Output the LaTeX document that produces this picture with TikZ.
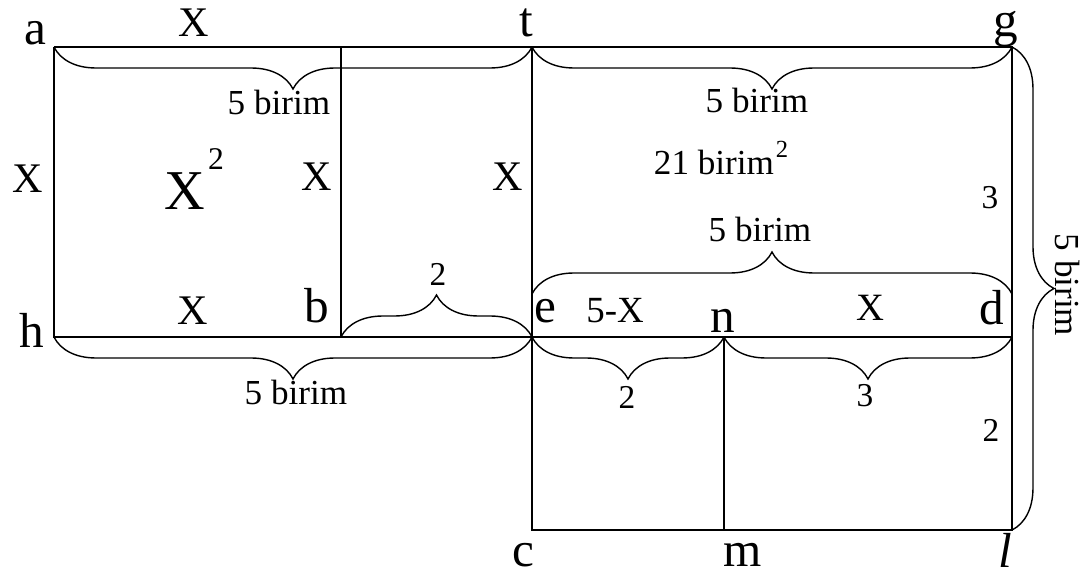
\documentclass[tikz,border=0pt]{standalone}
\usepackage{fontspec}
\setmainfont{Liberation Serif}
\usetikzlibrary{decorations.pathreplacing,calc}

\begin{document}
\begin{tikzpicture}[x=0.1mm,y=-0.1mm, line width=0.4pt,
    corner/.style={font=\fontsize{14}{16}\selectfont, anchor=base},
    xlbl/.style={font=\fontsize{12}{14}\selectfont, anchor=base},
    unit/.style={font=\fontsize{10}{12}\selectfont, anchor=base},
    num/.style={font=\fontsize{9.5}{11}\selectfont},
    brc/.style={decorate, decoration={brace, amplitude=4.2mm}},
    brcm/.style={decorate, decoration={brace, amplitude=4.2mm, mirror}}]
    \useasboundingbox (0,0) rectangle (1083,574);
    % corners of the figure
    \coordinate (A) at (54,47);
    \coordinate (Bt) at (341,47);
    \coordinate (T) at (532,47);
    \coordinate (G) at (1012,47);
    \coordinate (H) at (54,337);
    \coordinate (B) at (341,337);
    \coordinate (E) at (532,337);
    \coordinate (N) at (724,337);
    \coordinate (D) at (1012,337);
    \coordinate (C) at (532,530);
    \coordinate (M) at (724,530);
    \coordinate (L) at (1012,530);
    % sides
    \draw (A) -- (G) -- (L) -- (C) -- (T);
    \draw (A) -- (H) -- (D);
    \draw (Bt) -- (B);
    \draw (N) -- (M);
    % braces
    \draw[brcm] (A) -- (T);
    \draw[brcm] (T) -- (G);
    \draw[brc] ($(E)+(0,-43)$) -- ($(D)+(0,-43)$);
    \draw[brc] (B) -- (E);
    \draw[brcm] (H) -- (E);
    \draw[brcm] (E) -- (N);
    \draw[brcm] (N) -- (D);
    \draw[brc] (G) -- (L);
    % point names
    \node[corner] (la) at (35,45) {a};
    \node[corner] (lt) at (526,37) {t};
    \node[corner] (lg) at (1006,37) {g};
    \node[corner] (lh) at (32,347) {h};
    \node[corner] (lb) at (317,323) {b};
    \node[corner] (le) at (545,323) {e};
    \node[corner] (ln) at (723,333) {n};
    \node[corner] (ld) at (992,325) {d};
    \node[corner] (lc) at (523,567) {c};
    \node[corner] (lm) at (743,567) {m};
    \node[corner] (ll) at (1005,568) {\textit{l}};
    % lengths and areas
    \node[xlbl] (xtop) at (194,36) {X};
    \node[xlbl] (xleft) at (28,193) {X};
    \node[font=\fontsize{16}{18}\selectfont, anchor=base] (xsq) at (185,210) {X};
    \node[font=\fontsize{9}{10}\selectfont] (xsqexp) at (216,159) {2};
    \node[xlbl] (xb) at (317,190) {X};
    \node[xlbl] (xt) at (508,190) {X};
    \node[xlbl] (xbot) at (193,325) {X};
    \node[unit] (fivetl) at (279,115) {5 birim};
    \node[unit] (fivetr) at (757,113) {5 birim};
    \node[unit] (area) at (714,175) {21 birim};
    \node[font=\fontsize{7}{8}\selectfont] (areaexp) at (782,149) {2};
    \node[num] (three) at (990,198) {3};
    \node[unit] (fivemid) at (760,241) {5 birim};
    \node[num] (twobe) at (438,274) {2};
    \node[font=\fontsize{10.5}{12}\selectfont, anchor=base] (fivex) at (615,322) {5-X};
    \node[font=\fontsize{11}{13}\selectfont, anchor=base] (xnd) at (870,320) {X};
    \node[unit] (fivebot) at (296,405) {5 birim};
    \node[num] (twoen) at (627,397) {2};
    \node[num] (threend) at (865,396) {3};
    \node[num] (tworight) at (991,430) {2};
    \node[font=\fontsize{10}{12}\selectfont, rotate=-90] (fiveright) at (1068,285) {5 birim};
\end{tikzpicture}
\end{document}
